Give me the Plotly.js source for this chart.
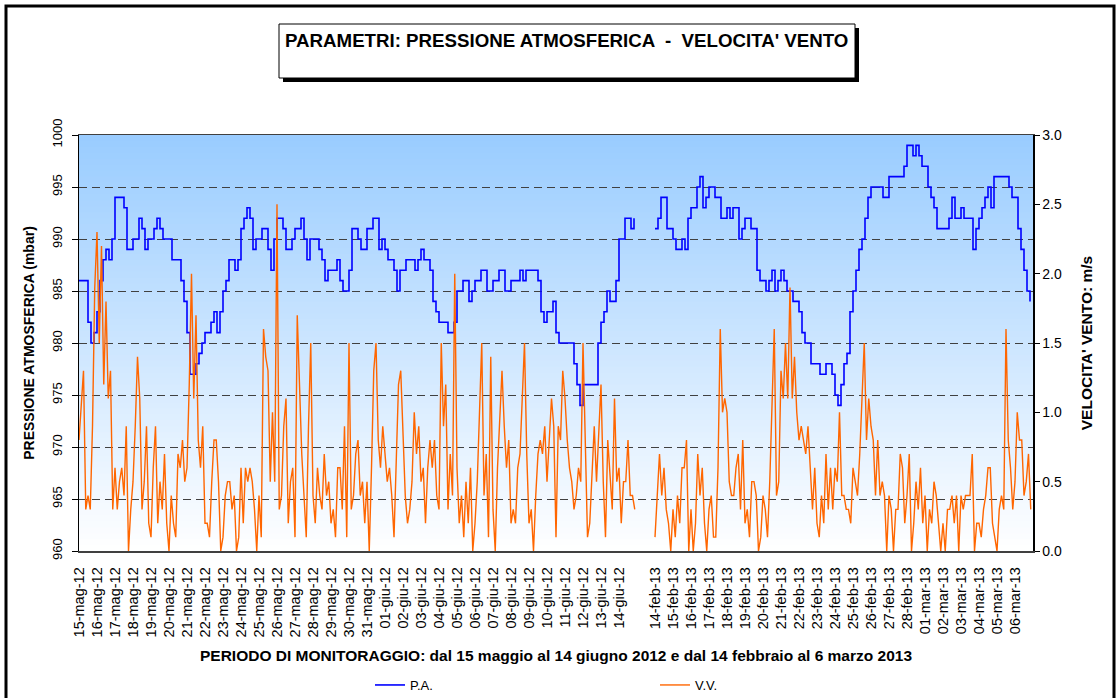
<!DOCTYPE html>
<html>
<head>
<meta charset="utf-8">
<script src="https://cdn.plot.ly/plotly-3.0.1.min.js"></script>
<style>
  html, body { margin: 0; padding: 0; background: #ffffff; }
  #chart { width: 1120px; height: 698px; }
</style>
</head>
<body>
<div id="chart"></div>
<script>
// ---------------- DATA ----------------
// Tick labels (one per day)
const labelsA = ["15-mag-12","16-mag-12","17-mag-12","18-mag-12","19-mag-12","20-mag-12","21-mag-12","22-mag-12","23-mag-12","24-mag-12","25-mag-12","26-mag-12","27-mag-12","28-mag-12","29-mag-12","30-mag-12","31-mag-12","01-giu-12","02-giu-12","03-giu-12","04-giu-12","05-giu-12","06-giu-12","07-giu-12","08-giu-12","09-giu-12","10-giu-12","11-giu-12","12-giu-12","13-giu-12","14-giu-12"];
const labelsB = ["14-feb-13","15-feb-13","16-feb-13","17-feb-13","18-feb-13","19-feb-13","20-feb-13","21-feb-13","22-feb-13","23-feb-13","24-feb-13","25-feb-13","26-feb-13","27-feb-13","28-feb-13","01-mar-13","02-mar-13","03-mar-13","04-mar-13","05-mar-13","06-mar-13"];

// Atmospheric pressure (mbar), 6 readings per day (every 4 h)
const pressA = [
 986,986,986,982,980,981, 983,986,988,989,988,990, 994,994,994,993,989,989, 990,990,992,991,989,990,
 990,991,992,991,990,990, 990,988,988,988,986,984, 981,977,977,978,979,980, 981,981,982,983,981,983,
 985,986,988,988,987,988, 991,992,993,992,989,990, 990,991,991,989,987,990, 992,992,991,989,989,990,
 991,991,992,990,988,990, 990,990,989,988,986,987, 987,987,988,986,985,985, 987,991,991,990,989,989,
 991,991,992,992,989,990, 989,988,988,987,985,987, 987,988,988,988,987,988, 989,988,988,987,984,983,
 982,982,982,981,981,982, 985,985,986,986,984,985, 986,986,987,987,985,985, 986,986,987,987,985,985,
 986,986,986,987,986,987, 987,987,987,986,983,982, 983,983,984,981,980,980, 980,980,980,978,976,974,
 976,976,976,976,976,980, 982,983,985,984,984,986, 990,990,992,992,991,992
];
const pressB = [
 991,992,994,994,991,991, 990,989,989,990,989,992, 993,993,995,996,993,994, 995,995,994,994,992,992,
 993,992,993,993,990,991, 992,992,991,991,987,986, 986,985,986,987,985,986, 987,986,985,985,984,984,
 983,981,980,980,978,978, 978,977,977,978,978,977, 975,974,976,978,979,983, 985,987,989,990,992,994,
 995,995,995,995,994,994, 996,996,996,996,996,997, 999,999,998,999,998,997, 997,995,994,993,991,991,
 991,991,992,994,992,992, 993,992,992,992,989,991, 992,993,994,995,993,996, 996,996,996,996,995,994,
 994,991,989,987,985,984
];

// Wind speed (m/s), 8 readings per day (every 3 h)
const windA = [
 0.8,1.1,1.3,0.3,0.4,0.3,0.9,1.9,  2.3,1.5,2.2,1.2,1.8,1.1,1.3,0.3,  0.6,0.3,0.5,0.6,0.4,0.9,0.0,0.3,
 0.5,0.9,1.4,1.1,0.3,0.5,0.9,0.2,  0.1,0.6,0.9,0.2,0.5,0.3,0.7,0.2,  0.0,0.4,0.2,0.1,0.7,0.6,0.8,0.5,
 0.6,1.2,2.0,1.1,1.7,0.8,0.6,0.9,  0.2,0.2,0.1,0.5,0.8,0.8,0.5,0.0,  0.1,0.4,0.5,0.5,0.3,0.4,0.0,0.1,
 0.6,0.2,0.6,0.5,0.6,0.5,0.3,0.0,  0.4,0.1,1.6,1.4,1.3,0.5,1.0,0.5,  2.5,0.3,0.4,0.9,1.1,0.2,0.5,0.6,
 0.1,1.7,1.2,0.7,0.4,0.1,0.9,1.5,  0.4,0.2,0.6,0.4,0.3,0.7,0.4,0.5,  0.2,0.3,0.1,0.6,0.6,0.3,0.9,0.1,
 1.5,0.3,0.4,0.7,0.8,0.4,0.5,0.2,  0.5,0.0,0.6,1.3,1.5,0.8,0.6,0.9,  0.7,0.5,0.6,0.4,0.1,0.6,1.2,1.3,
 0.9,0.4,0.2,0.3,0.5,1.0,0.7,0.9,  0.5,0.6,0.2,0.6,0.8,0.6,0.8,0.4,  0.3,1.5,0.9,1.2,0.3,0.7,0.4,2.0,
 0.6,0.2,0.4,0.1,0.5,0.2,0.6,0.0,  0.2,0.5,1.0,1.5,0.4,0.7,0.1,1.4,  0.3,0.0,0.6,0.9,1.3,0.9,0.6,0.8,
 0.2,0.3,0.2,0.6,0.7,1.1,1.5,0.7,  0.2,0.3,0.0,0.4,0.7,0.8,0.7,0.9,  0.5,0.8,1.1,0.9,0.1,0.9,0.8,1.3,
 1.1,0.8,0.6,0.5,0.3,0.4,0.6,0.5,  1.5,0.8,0.1,0.2,0.5,0.9,0.5,0.9,  1.2,0.5,0.1,0.8,0.5,0.3,1.1,0.5,
 0.6,0.2,0.5,0.5,0.8,0.4,0.4,0.3
];
const windB = [
 0.1,0.4,0.7,0.4,0.6,0.3,0.2,0.0,  0.3,0.1,0.4,0.2,0.6,0.6,0.8,0.0,  0.3,0.0,0.2,0.7,0.4,0.6,0.2,0.0,
 0.3,0.4,0.1,0.1,0.6,1.6,1.0,1.1,  1.0,0.5,0.4,0.4,0.6,0.7,0.3,0.8,  0.2,0.3,0.1,0.5,0.5,0.4,0.0,0.1,
 0.4,0.3,0.1,0.5,1.0,1.6,0.4,0.5,  1.3,1.1,1.5,1.1,1.9,1.1,1.4,1.0,  0.8,0.9,0.8,0.7,0.9,0.6,0.3,0.6,
 0.2,0.1,0.4,0.2,0.7,0.3,0.6,0.3,  0.6,0.5,1.0,0.4,0.4,0.3,0.3,0.2,  0.6,0.5,0.4,0.7,1.1,1.5,0.8,1.1,
 0.9,0.8,0.4,0.8,0.4,0.5,0.4,0.0,  0.4,0.3,0.0,0.3,0.3,0.7,0.6,0.2,  0.4,0.7,0.0,0.2,0.5,0.3,0.6,0.2,
 0.4,0.0,0.3,0.2,0.5,0.4,0.2,0.0,  0.2,0.0,0.3,0.3,0.4,0.2,0.4,0.0,  0.4,0.3,0.4,0.4,0.4,0.7,0.0,0.2,
 0.2,0.1,0.3,0.4,0.6,0.6,0.2,0.1,  0.0,0.3,0.4,0.3,1.6,0.8,0.6,0.3,  0.5,1.0,0.8,0.8,0.4,0.5,0.7,0.3
];

const PER_DAY_P = 6, PER_DAY_W = 8;
const DAY_START_B = labelsA.length + 1;   // one empty day between the two campaigns
const TOTAL_DAYS = DAY_START_B + labelsB.length;

// ---------------- BUILD SERIES ----------------
function buildSeries(a, b, perDay) {
  const x = [], y = [];
  a.forEach((v, i) => { x.push(i / perDay); y.push(v); });
  x.push(labelsA.length + 0.5); y.push(null);           // gap
  b.forEach((v, i) => { x.push(DAY_START_B + i / perDay); y.push(v); });
  return {x, y};
}
const P = buildSeries(pressA, pressB, PER_DAY_P);
const W = buildSeries(windA, windB, PER_DAY_W);

const tickVals = [], tickText = [];
labelsA.forEach((t, i) => { tickVals.push(i); tickText.push(t); });
labelsB.forEach((t, i) => { tickVals.push(DAY_START_B + i); tickText.push(t); });

// ---------------- LAYOUT HELPERS ----------------
const FIG_W = 1120, FIG_H = 698;
const M = {l: 79, r: 87, t: 135, b: 147, autoexpand: false};
const PW = FIG_W - M.l - M.r, PH = FIG_H - M.t - M.b;
const px = v => (v - M.l) / PW;
const py = v => (FIG_H - M.b - v) / PH;

const shapes = [];
// gradient background of the plot area
const NB = 70;
for (let k = 0; k < NB; k++) {
  const f = (k + 0.5) / NB;               // 0 bottom -> 1 top
  const r = Math.round(255 + (153 - 255) * f);
  const g = Math.round(255 + (204 - 255) * f);
  shapes.push({type: 'rect', xref: 'x domain', yref: 'y domain', x0: 0, x1: 1,
    y0: k / NB, y1: (k + 1) / NB + 0.002, fillcolor: `rgb(${r},${g},255)`,
    line: {width: 0}, layer: 'below'});
}
// title box shadow + box
shapes.push({type: 'rect', xref: 'paper', yref: 'paper', x0: px(283), x1: px(859), y0: py(82), y1: py(28),
  fillcolor: '#000000', line: {width: 0}, layer: 'above'});
shapes.push({type: 'rect', xref: 'paper', yref: 'paper', x0: px(279), x1: px(855), y0: py(78), y1: py(24),
  fillcolor: '#ffffff', line: {color: '#000000', width: 1}, layer: 'above'});
// outer chart frame
shapes.push({type: 'rect', xref: 'paper', yref: 'paper', x0: px(6), x1: px(1114), y0: py(720), y1: py(6),
  line: {color: '#000000', width: 3}, fillcolor: 'rgba(0,0,0,0)', layer: 'above'});

const FONT = 'Liberation Sans, Arial, Helvetica, sans-serif';

const data = [
  {x: P.x, y: P.y, name: 'P.A.', type: 'scatter', mode: 'lines',
   line: {color: '#0000FF', width: 1.6, shape: 'hv'}, connectgaps: false, hoverinfo: 'x+y'},
  {x: W.x, y: W.y, name: 'V.V.', type: 'scatter', mode: 'lines', yaxis: 'y2',
   line: {color: '#FF6600', width: 1.4}, connectgaps: false, hoverinfo: 'x+y'}
];

const layout = {
  width: FIG_W, height: FIG_H,
  margin: M,
  paper_bgcolor: '#ffffff', plot_bgcolor: '#ffffff',
  font: {family: FONT, color: '#000000', size: 13},
  showlegend: true,
  legend: {orientation: 'h', x: px(370), xanchor: 'left', y: py(685), yanchor: 'middle',
    font: {size: 13, family: FONT}, entrywidth: 240, entrywidthmode: 'pixels',
    bgcolor: 'rgba(0,0,0,0)', tracegroupgap: 0},
  xaxis: {
    type: 'linear', range: [0, TOTAL_DAYS], tickmode: 'array', tickvals: tickVals, ticktext: tickText,
    tickangle: -90, tickfont: {size: 14.5, family: FONT}, ticks: '', ticklabelstandoff: 9,
    showgrid: false, zeroline: false, automargin: false,
    showline: true, linecolor: '#404040', linewidth: 1.5, mirror: true,
    title: {text: '<b>PERIODO DI MONITORAGGIO: dal 15 maggio al 14 giugno 2012 e dal 14 febbraio al 6 marzo 2013</b>',
      font: {size: 15.5, family: FONT}, standoff: 13}
  },
  yaxis: {
    range: [960, 1000], dtick: 5, tick0: 960, tickangle: -90, tickfont: {size: 13, family: FONT},
    ticks: 'outside', ticklen: 6, tickcolor: '#000000', ticklabelstandoff: 4, automargin: false,
    showline: true, linecolor: '#000000', linewidth: 1.5,
    showgrid: true, gridcolor: '#404040', gridwidth: 1, griddash: '8px,5px', zeroline: false,
    title: {text: '<b>PRESSIONE ATMOSFERICA (mbar)</b>', font: {size: 14, family: FONT}, standoff: 12}
  },
  yaxis2: {
    overlaying: 'y', side: 'right', range: [0, 3], dtick: 0.5, tick0: 0, tickformat: '.1f',
    tickfont: {size: 14, family: FONT}, ticks: 'outside', ticklen: 5, tickcolor: '#000000', automargin: false,
    showline: true, linecolor: '#000000', linewidth: 1.5, showgrid: false, zeroline: false,
    title: {text: "<b>VELOCITA' VENTO: m/s</b>", font: {size: 15.5, family: FONT}, standoff: 20}
  },
  shapes: shapes,
  annotations: [
    {xref: 'paper', yref: 'paper', x: px(283), y: py(40), xanchor: 'left', yanchor: 'middle',
     text: "<b>PARAMETRI: PRESSIONE ATMOSFERICA \u00a0-\u00a0 VELOCITA' VENTO</b>", showarrow: false,
     font: {size: 18.7, family: FONT, color: '#000000'}}
  ]
};

Plotly.newPlot('chart', data, layout, {displayModeBar: false, staticPlot: true});
</script>
</body>
</html>
